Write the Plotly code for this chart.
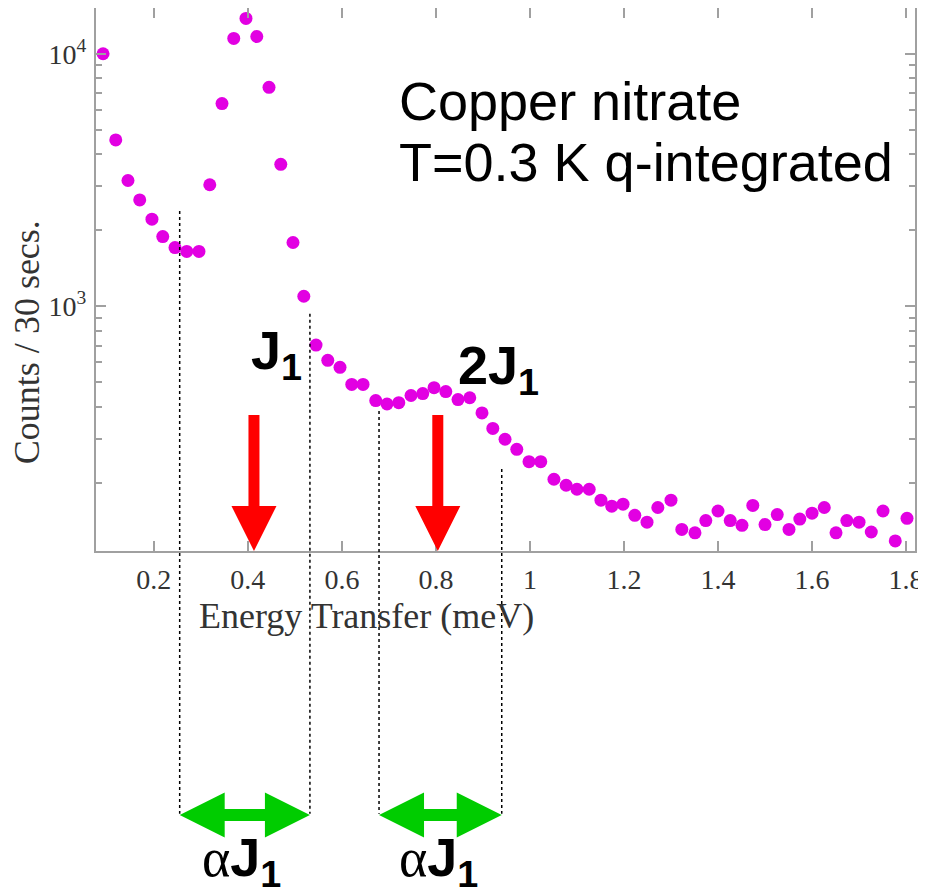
import plotly.graph_objects as go

# ---- data ----
energy = [0.092, 0.119, 0.145, 0.170, 0.196, 0.219, 0.245, 0.270, 0.296, 0.319,
          0.345, 0.370, 0.396, 0.419, 0.445, 0.470, 0.496, 0.519, 0.545, 0.570,
          0.596, 0.621, 0.645, 0.672, 0.696, 0.721, 0.747, 0.772, 0.796, 0.821,
          0.847, 0.872, 0.898, 0.921, 0.947, 0.972, 0.998, 1.023, 1.051, 1.077,
          1.100, 1.126, 1.151, 1.174, 1.198, 1.223, 1.249, 1.272, 1.300, 1.323,
          1.351, 1.374, 1.400, 1.426, 1.451, 1.474, 1.500, 1.526, 1.551, 1.574,
          1.600, 1.626, 1.651, 1.674, 1.700, 1.726, 1.751, 1.777, 1.802]
counts = [10000, 4560, 3150, 2640, 2215, 1890, 1710, 1650, 1650, 3030,
          6350, 11500, 13800, 11700, 7360, 3650, 1790, 1097, 703, 612,
          574, 491, 491, 424, 411, 416, 444, 452, 477, 460,
          428, 435, 379, 329, 298, 272, 243, 243, 207, 196,
          189, 189, 171, 162, 165, 149, 140, 160, 171, 131,
          127, 142, 155, 142, 136, 163, 137, 150, 131, 144,
          152, 160, 127, 142, 140, 128, 155, 118, 145]

x_tickvals = [0.2, 0.4, 0.6, 0.8, 1.0, 1.2, 1.4, 1.6, 1.8]
x_ticktext = ["0.2", "0.4", "0.6", "0.8", "1", "1.2", "1.4", "1.6", "1.8"]
y_tickvals = [1000, 10000]
y_ticktext = ["10<sup>3</sup>", "10<sup>4</sup>"]
y_minor = [200, 300, 400, 500, 600, 700, 800, 900,
           2000, 3000, 4000, 5000, 6000, 7000, 8000, 9000]

# annotation positions (energy values)
peak_arrows = [0.413, 0.804]          # J1 and 2J1 markers
width_edges = [(0.255, 0.532), (0.679, 0.940)]   # alpha*J1 bands
dotted_tops = [0.626, 0.437, 0.258, 0.151]       # paper-y tops of dotted lines

X_RANGE = [0.077, 1.819]
Y_RANGE = [2.032, 4.181]
# page body adds an 8px offset, so the figure is smaller and margins shifted
W, H = 918, 880
M = dict(l=88, r=11, t=0, b=337)
plot_w = W - M["l"] - M["r"]
px_per_unit = plot_w / (X_RANGE[1] - X_RANGE[0])

fig = go.Figure()
fig.add_trace(go.Scatter(
    x=energy, y=counts, mode="markers",
    marker=dict(color="#e200e2", size=13, line=dict(width=0)),
    showlegend=False, cliponaxis=False))

shapes = []
# dotted guide lines
arrow_y_paper = -0.486
edges_flat = [e for pair in width_edges for e in pair]
for xe, top in zip(edges_flat, dotted_tops):
    shapes.append(dict(type="line", xref="x", yref="paper", x0=xe, x1=xe,
                       y0=top, y1=arrow_y_paper + 0.002,
                       line=dict(color="black", width=1.5, dash="dot")))

# red down arrows (pixel-sized, anchored at axis bottom)
for xa in peak_arrows:
    path = ("M 0 0 L -22.5 45 L -5.5 45 L -5.5 136 L 5.5 136 "
            "L 5.5 45 L 22.5 45 Z")
    shapes.append(dict(type="path", xref="x", yref="paper",
                       xsizemode="pixel", ysizemode="pixel",
                       xanchor=xa, yanchor=0, path=path,
                       fillcolor="#ff0000", line=dict(width=0)))

# green double arrows
for (x0, x1) in width_edges:
    L = (x1 - x0) * px_per_unit
    hl = 45
    path = (f"M 0 0 L {hl} 22.5 L {hl} 6 L {L-hl} 6 L {L-hl} 22.5 "
            f"L {L} 0 L {L-hl} -22.5 L {L-hl} -6 L {hl} -6 L {hl} -22.5 Z")
    shapes.append(dict(type="path", xref="x", yref="paper",
                       xsizemode="pixel", ysizemode="pixel",
                       xanchor=x0, yanchor=arrow_y_paper, path=path,
                       fillcolor="#00cc00", line=dict(width=0)))

serif = "Liberation Serif"
sans = "Liberation Sans"
annotations = [
    dict(text="Copper nitrate", x=0.368, y=0.828, xanchor="left",
         yanchor="middle", font=dict(family=sans, size=54, color="black")),
    dict(text="T=0.3 K q-integrated", x=0.368, y=0.717, xanchor="left",
         yanchor="middle", font=dict(family=sans, size=54, color="black")),
    dict(text="<b>J<sub>1</sub></b>", x=0.221, y=0.362, xanchor="center",
         yanchor="middle", font=dict(family=sans, size=54, color="black")),
    dict(text="<b>2J<sub>1</sub></b>", x=0.491, y=0.336, xanchor="center",
         yanchor="middle", font=dict(family=sans, size=54, color="black")),
    dict(text="Counts / 30 secs.", x=-0.084, y=0.385, textangle=-90,
         xanchor="center", yanchor="middle",
         font=dict(family=serif, size=36, color="#333333")),
    dict(text="Energy Transfer (meV)", x=0.3297, y=-0.1196,
         xanchor="center", yanchor="middle",
         font=dict(family=serif, size=36, color="#333333")),
]
for cx in [0.178, 0.4188]:
    annotations.append(dict(
        text="<span style='font-family:Liberation Serif'>α</span><b>J<sub>1</sub></b>",
        x=cx, y=-0.571, xanchor="center", yanchor="middle",
        font=dict(family=sans, size=54, color="black")))
for a in annotations:
    a.update(xref="paper", yref="paper", showarrow=False)

axis_common = dict(showline=True, linecolor="#a0a0a0", linewidth=2,
                   mirror="ticks", ticks="inside", tickcolor="#a0a0a0",
                   tickwidth=1.5, ticklen=10, showgrid=False, zeroline=False,
                   automargin=False, ticklabeloverflow="allow",
                   tickfont=dict(family=serif, size=28, color="#333333"))

fig.update_layout(
    width=W, height=H, margin=M,
    paper_bgcolor="white", plot_bgcolor="white",
    shapes=shapes, annotations=annotations,
    xaxis=dict(range=X_RANGE, tickmode="array", tickvals=x_tickvals,
               ticktext=x_ticktext, ticklabelstandoff=2, **axis_common),
    yaxis=dict(type="log", range=Y_RANGE, tickmode="array",
               tickvals=y_tickvals, ticktext=y_ticktext,
               ticklabelstandoff=2,
               minor=dict(tickmode="array", tickvals=y_minor, ticks="inside",
                          ticklen=6, tickcolor="#a0a0a0", tickwidth=1.5,
                          showgrid=False),
               **axis_common),
)

fig.write_html("out.html")
